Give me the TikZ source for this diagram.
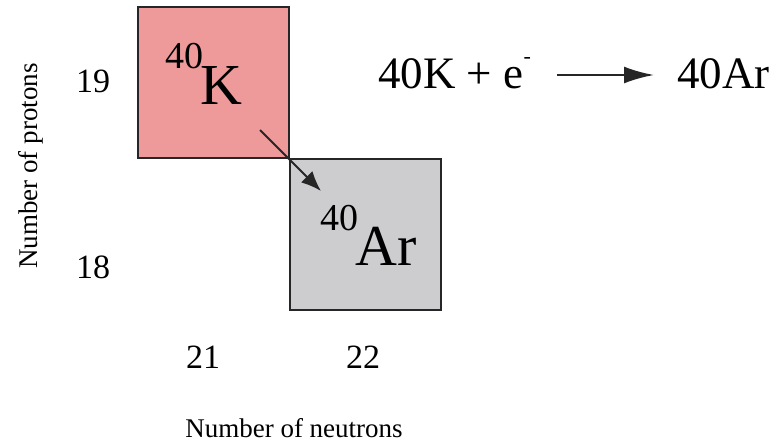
\documentclass[tikz,border=0pt]{standalone}
\usepackage{fontspec}
\setmainfont{Liberation Serif}
\usetikzlibrary{arrows.meta}
\definecolor{kfill}{HTML}{EE9A9A}
\definecolor{arfill}{HTML}{CDCDD0}
\tikzset{
  nucbox/.style={draw=black!85, line width=2pt, minimum size=151pt, inner sep=0pt},
  big/.style={font=\fontsize{58}{60}\selectfont, inner sep=0pt, anchor=base west},
  sup/.style={font=\fontsize{38}{40}\selectfont, inner sep=0pt, anchor=base west},
  eq/.style={font=\fontsize{45}{47}\selectfont, inner sep=0pt, anchor=base west},
  num/.style={font=\fontsize{34}{36}\selectfont, inner sep=0pt, anchor=base},
  axis/.style={font=\fontsize{27}{29}\selectfont, inner sep=0pt, anchor=base},
  conn/.style={line width=2pt, draw=black!85}
}
\begin{document}
\begin{tikzpicture}[x=1pt,y=-1pt]
\useasboundingbox (0,0) rectangle (771,442);
\node[nucbox, fill=kfill] (kbox) at (213,82.5) {};
\node[nucbox, fill=arfill] (arbox) at (365,234) {};
\node[sup] (k40) at (165,68) {40};
\node[big] (k) at (200,104) {K};
\node[sup] (ar40) at (320,230) {40};
\node[big] (ar) at (355,265) {Ar};
\coordinate (a1) at (260,130);
\coordinate (a2) at (321,191);
\draw[conn, -{Latex[length=20pt,width=16pt]}] (a1) -- (a2);
\node[eq] (lhs) at (378,88) {40K + e\raisebox{0.55em}{\fontsize{22}{22}\selectfont -}};
\node[eq] (rhs) at (677,88) {40Ar};
\coordinate (b1) at (557,75);
\coordinate (b2) at (654,75);
\draw[conn, line width=2.5pt, -{Latex[length=30pt,width=17pt]}] (b1) -- (b2);
\node[num] (n19) at (93,92) {19};
\node[num] (n18) at (93,278) {18};
\node[num] (n21) at (203,368) {21};
\node[num] (n22) at (363,368) {22};
\node[axis] (xl) at (294,437) {Number of neutrons};
\node[axis, rotate=90] (yl) at (37,166) {Number of protons};
\end{tikzpicture}
\end{document}
